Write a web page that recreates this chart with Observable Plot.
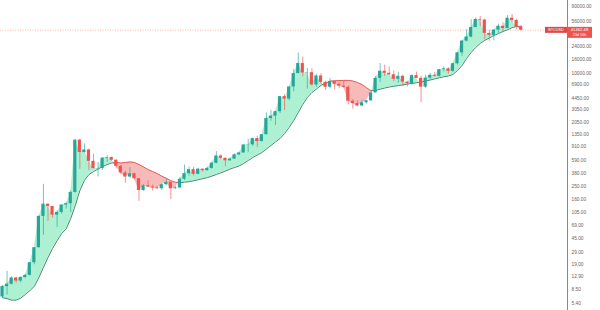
<!DOCTYPE html>
<html><head><meta charset="utf-8">
<script src="https://cdn.jsdelivr.net/npm/d3@7"></script>
<script src="https://cdn.jsdelivr.net/npm/@observablehq/plot@0.6"></script>
<style>html,body{margin:0;padding:0;background:#fff;} svg{display:block;}</style>
</head><body><div id="chart"></div>
<script>
// Monthly BTCUSD candles, Jul 2012 .. Jan 2022
const startMonth = "2012-07";
const open = [
  6.65, 9.35, 10.1, 12.4, 11.2, 12.6,
  13.5, 20.4, 33.4, 93, 139, 129, 97, 106, 135, 141, 204, 1130,
  755, 820, 565, 445, 447, 628, 640, 585, 480, 386, 338, 376,
  320, 217, 254, 244, 236, 230, 263, 284, 230, 236, 314, 377,
  430, 369, 437, 416, 448, 531, 673, 624, 575, 609, 700, 742,
  964, 970, 1190, 1080, 1350, 2300, 2480, 2875, 4700, 4340, 6450, 10000,
  13900, 10200, 10300, 6900, 9250, 7500, 6400, 7730, 7030, 6630, 6370, 4040,
  3740, 3460, 3850, 4100, 5320, 8560, 10800, 10100, 9600, 8300, 9150, 7550,
  7200, 9350, 8550, 6420, 8630, 9450, 9140, 11350, 11650, 10780, 13800, 19700,
  28990, 33100, 45200, 58800, 57700, 37300, 35000, 41500, 47100, 43800, 61300, 57000,
  46200
];
const high = [
  9.65, 15.4, 12.9, 12.5, 12.8, 13.9,
  20.4, 33.4, 95, 266, 139, 129, 111, 136, 145, 215, 1150, 1163,
  1000, 840, 718, 545, 630, 680, 650, 600, 495, 411, 460, 385,
  320, 265, 300, 260, 248, 267, 316, 285, 247, 335, 500, 470,
  463, 448, 439, 468, 550, 780, 704, 625, 630, 720, 760, 975,
  1165, 1200, 1290, 1350, 2760, 3000, 2920, 4760, 5000, 6450, 11400, 19700,
  17200, 11800, 11700, 9800, 9950, 7800, 8500, 7780, 7400, 7700, 6600, 4240,
  4100, 4200, 4130, 5600, 9100, 13900, 13200, 12300, 10900, 10500, 9500, 7750,
  9600, 10500, 9200, 9450, 10100, 10400, 11450, 12470, 12100, 14100, 19850, 29300,
  41950, 58350, 61800, 64850, 59500, 41300, 42300, 50500, 52900, 67000, 69000, 59100,
  47900
];
const low = [
  6.4, 7.1, 9.9, 10.5, 10.5, 12.2,
  13.2, 19.1, 33, 50, 79, 88, 65, 100, 118, 106, 200, 435,
  740, 420, 443, 340, 420, 545, 565, 440, 365, 275, 325, 305,
  152, 212, 240, 214, 225, 218, 254, 162, 225, 236, 300, 350,
  350, 365, 396, 412, 436, 520, 600, 475, 570, 605, 680, 740,
  750, 920, 890, 1060, 1350, 2100, 1830, 2700, 2970, 4100, 5500, 10000,
  9000, 6000, 6600, 6450, 7000, 5750, 6100, 5880, 6100, 6200, 3600, 3130,
  3350, 3380, 3700, 4050, 5300, 7450, 9100, 9350, 7700, 7300, 6500, 6430,
  6850, 8450, 3850, 6150, 8100, 8900, 8950, 10550, 9850, 10400, 13200, 17600,
  28130, 32300, 45000, 47000, 30000, 28800, 29300, 37300, 39600, 43300, 53300, 42000,
  40600
];
const close = [
  9.35, 10.1, 12.4, 11.2, 12.6, 13.5,
  20.4, 33.4, 93, 139, 129, 97, 106, 135, 141, 204, 1130, 755,
  820, 565, 445, 447, 628, 640, 585, 480, 386, 338, 376, 320,
  217, 254, 244, 236, 230, 263, 284, 230, 236, 314, 377, 430,
  369, 437, 416, 448, 531, 673, 624, 575, 609, 700, 742, 964,
  970, 1190, 1080, 1350, 2300, 2480, 2875, 4700, 4340, 6450, 10000, 13900,
  10200, 10300, 6900, 9250, 7500, 6400, 7730, 7030, 6630, 6370, 4040, 3740,
  3460, 3850, 4100, 5320, 8560, 10800, 10100, 9600, 8300, 9150, 7550, 7200,
  9350, 8550, 6420, 8630, 9450, 9140, 11350, 11650, 10780, 13800, 19700, 28990,
  33100, 45200, 58800, 57700, 37300, 35000, 41500, 47100, 43800, 61300, 57000, 46200,
  41462.48
];
// Moving average line
const ma = [
  6.5, 6.3, 6.0, 6.0, 6.4, 7.2,
  8.2, 9.4, 12.6, 17.5, 24.2, 32.5, 42, 53, 62, 87, 133, 217,
  302, 367, 404, 439, 477, 509, 535, 544, 535, 544, 553, 544,
  509, 470, 432, 404, 378, 348, 325, 299, 285, 280, 285, 290,
  299, 309, 320, 331, 348, 367, 388, 411, 439, 461, 485, 526,
  580, 640, 695, 753, 845, 950, 1064, 1193, 1406, 1713, 2150, 2795,
  3640, 4575, 5380, 6030, 6800, 7300, 7800, 7900, 7950, 8000, 8000, 7850,
  7480, 7000, 6300, 5700, 5750, 6000, 6230, 6440, 6600, 6750, 6900, 7100,
  7250, 7400, 7600, 7850, 8100, 8400, 8700, 9000, 9240, 9710, 11060, 13030,
  16400, 19950, 23500, 26800, 29700, 32100, 34800, 37100, 39700, 42000, 45000, 46800,
  47000
];
const yTicks = [5.4, 8.5, 12.9, 19, 29, 45, 69, 105, 160, 250, 380, 590, 910, 1350,
  2050, 3050, 4450, 6900, 10000, 16000, 24000, 56000, 90000];
const symbol = "BTCUSD";
const priceText = "41462.48";
const countdown = "23d 16h";

const upC = "#26a69a", downC = "#ef5350";
const fillUp = "#aef0d2", fillDown = "#f8b9b9";
const lineUp = "#2e7d5b", lineDown = "#d9534f";

const n = close.length;
const candles = d3.range(n).map(i => ({i, o: open[i], h: high[i], l: low[i], c: close[i]}));

// Split close/MA band into same-sign segments with crossing points
const pts = [];
let seg = 0;
const L = Math.log;
for (let i = 0; i < n; i++) {
  const up = close[i] >= ma[i];
  pts.push({x: i, ma: ma[i], c: close[i], seg, up});
  if (i < n - 1) {
    const d0 = L(close[i]) - L(ma[i]), d1 = L(close[i + 1]) - L(ma[i + 1]);
    if ((d0 >= 0) !== (d1 >= 0)) {
      const t = d0 / (d0 - d1);
      const v = Math.exp(L(ma[i]) + t * (L(ma[i + 1]) - L(ma[i])));
      pts.push({x: i + t, ma: v, c: v, seg, up});
      seg++;
      pts.push({x: i + t, ma: v, c: v, seg, up: !up});
    }
  }
}

const xMax = 124.18;
const font = "'Liberation Sans', Arial, sans-serif";
const chart = Plot.plot({
  width: 600, height: 310,
  marginLeft: 0, marginRight: 33, marginTop: 0, marginBottom: 0,
  style: {fontFamily: font, fontSize: "4.8px", color: "#666", background: "#fff", overflow: "visible"},
  x: {type: "linear", domain: [-0.44, xMax], axis: null},
  y: {type: "log", domain: [4.27, 109500], axis: null},
  marks: [
    Plot.ruleY([close[n - 1]], {stroke: downC, strokeOpacity: 0.55, strokeDasharray: "1,1.5", strokeWidth: 0.8}),
    Plot.areaY(pts, {x: "x", y1: "ma", y2: "c", z: "seg", fill: d => d.up ? fillUp : fillDown, curve: "linear"}),
    Plot.line(pts, {x: "x", y: "ma", z: "seg", stroke: d => d.up ? lineUp : lineDown, strokeWidth: 0.9, curve: "linear"}),
    Plot.ruleX(candles, {x: "i", y1: "l", y2: "h", stroke: d => d.c >= d.o ? upC : downC, strokeWidth: 0.8, strokeOpacity: 0.8}),
    Plot.rect(candles, {x1: d => d.i - 0.35, x2: d => d.i + 0.35, y1: "o", y2: "c", fill: d => d.c >= d.o ? upC : downC}),
    Plot.ruleX([xMax], {stroke: "#8a8a8a", strokeWidth: 1}),
    Plot.text(yTicks, {x: xMax, y: d => d, text: d => d.toFixed(2), textAnchor: "start", dx: 4,
      fill: "#666", fontSize: 4.8})
  ]
});
document.getElementById("chart").appendChild(chart);

// Price tag on the right axis, positioned through the y scale
const yv = chart.scale("y").apply(close[n - 1]);
const g = d3.select(chart).append("g").attr("font-family", font);
g.append("rect").attr("x", 545).attr("y", yv - 2.8).attr("width", 22).attr("height", 6).attr("fill", "#e04848");
g.append("text").attr("x", 556).attr("y", yv + 0.3).attr("text-anchor", "middle").attr("dominant-baseline", "middle")
  .attr("font-size", 3.8).attr("fill", "#fff").text(symbol);
g.append("rect").attr("x", 567).attr("y", yv - 2.8).attr("width", 25).attr("height", 11).attr("fill", downC);
g.append("text").attr("x", 579.5).attr("y", yv + 0.3).attr("text-anchor", "middle").attr("dominant-baseline", "middle")
  .attr("font-size", 4.2).attr("fill", "#fff").text(priceText);
g.append("text").attr("x", 579.5).attr("y", yv + 5.4).attr("text-anchor", "middle").attr("dominant-baseline", "middle")
  .attr("font-size", 3.8).attr("fill", "#fff").text(countdown);
</script>
</body></html>
